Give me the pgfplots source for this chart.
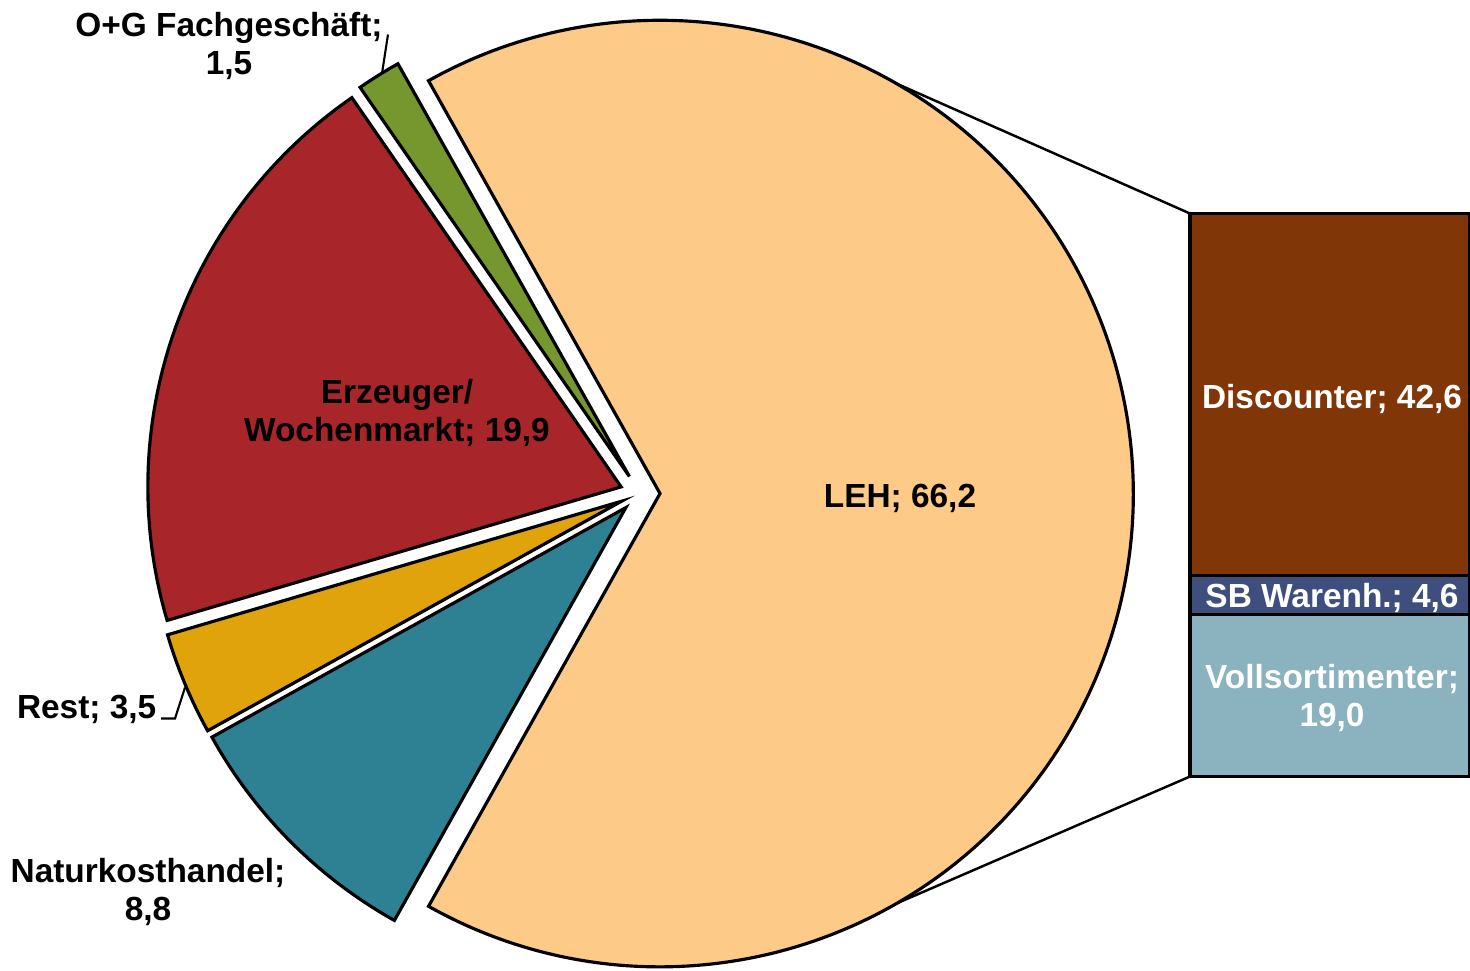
\documentclass[border=0pt]{standalone}
\usepackage{fontspec}
\setmainfont{Liberation Sans}
\usepackage{pgfplots}
\pgfplotsset{compat=1.18}

\definecolor{cLEH}{HTML}{FDCA88}
\definecolor{cErz}{HTML}{A8262A}
\definecolor{cOG}{HTML}{76962E}
\definecolor{cRest}{HTML}{E0A30B}
\definecolor{cNat}{HTML}{2E8093}
\definecolor{cDis}{HTML}{803606}
\definecolor{cSB}{HTML}{3E4F7E}
\definecolor{cVoll}{HTML}{8BB2BF}

% Anteile (Pie)
\newcommand\vLEH{66.2}
\newcommand\vOG{1.5}
\newcommand\vErz{19.9}
\newcommand\vRest{3.5}
\newcommand\vNat{8.8}

% Segment: Startwinkel, Endwinkel, Farbe (Mitte 640/477, Radius 473, explodiert 20)
\newcommand\slice[3]{%
  \pgfmathsetmacro\mid{(#1+#2)/2}%
  \pgfmathsetmacro\vx{640+20*cos(\mid)}%
  \pgfmathsetmacro\vy{477+20*sin(\mid)}%
  \edef\tmp{\noexpand\filldraw[fill=#3, draw=black, line width=0.9pt]
    (axis cs:\vx,\vy) -- ++(#1:4.73cm) arc[start angle=#1, end angle=#2, radius=4.73cm] -- cycle;}%
  \tmp}

\pgfplotsset{baraxis/.style={x=0.01cm, height=9.7cm, scale only axis,
    xmin=0, xmax=1470, ymin=-22.811, ymax=91.245, hide axis, clip=false}}

\begin{document}
\begin{tikzpicture}[font=\fontsize{9.5}{10.8}\selectfont\bfseries]
\pgfmathsetmacro\tot{\vLEH+\vOG+\vErz+\vRest+\vNat}
\pgfmathsetmacro\aA{-180*\vLEH/\tot}
\pgfmathsetmacro\aB{180*\vLEH/\tot}
\pgfmathsetmacro\aC{\aB+360*\vOG/\tot}
\pgfmathsetmacro\aD{\aC+360*\vErz/\tot}
\pgfmathsetmacro\aE{\aD+360*\vRest/\tot}
\pgfmathsetmacro\aF{\aE+360*\vNat/\tot}

\begin{axis}[x=0.01cm, y=0.01cm, xmin=0, xmax=1470, ymin=0, ymax=970,
    hide axis, clip=false, scale only axis]
  \slice{\aA}{\aB}{cLEH}
  \slice{\aB}{\aC}{cOG}
  \slice{\aC}{\aD}{cErz}
  \slice{\aD}{\aE}{cRest}
  \slice{\aE}{\aF}{cNat}
  % Verbindungslinien zur Saeule
  \draw[line width=0.7pt] (axis cs:660,477) ++(60:4.73cm) -- (axis cs:1190,757);
  \draw[line width=0.7pt] (axis cs:660,477) ++(-60:4.73cm) -- (axis cs:1190,194);
  % Fuehrungslinien
  \draw[line width=0.6pt] (axis cs:388,936) -- (axis cs:382,897);
  \draw[line width=0.6pt] (axis cs:161,252) -- (axis cs:175,252) -- (axis cs:185,283);
  % Beschriftungen
  \node[align=center] at (axis cs:229,925) {O+G Fachgeschäft;\\1,5};
  \node[align=center] at (axis cs:397,558) {Erzeuger/\\Wochenmarkt; 19,9};
  \node at (axis cs:900,472) {LEH; 66,2};
  \node[anchor=east, inner sep=0pt] at (axis cs:157,261) {Rest; 3,5};
  \node[align=center] at (axis cs:148,79) {Naturkosthandel;\\8,8};
\end{axis}

% Saeule LEH
\begin{axis}[baraxis, ybar stacked, bar width=280]
  \addplot[fill=cVoll, draw=black, line width=0.9pt] coordinates {(1330,19.0)};
  \addplot[fill=cSB, draw=black, line width=0.9pt] coordinates {(1330,4.6)};
  \addplot[fill=cDis, draw=black, line width=0.9pt] coordinates {(1330,42.6)};
\end{axis}
\begin{axis}[baraxis]
  \node[white, align=center] at (axis cs:1332,9.2) {Vollsortimenter;\\19,0};
  \node[white] at (axis cs:1332,21.0) {SB Warenh.; 4,6};
  \node[white] at (axis cs:1332,44.4) {Discounter; 42,6};
\end{axis}
\pgfresetboundingbox
\path (current axis.south west) rectangle (current axis.north east);
\end{tikzpicture}
\end{document}
